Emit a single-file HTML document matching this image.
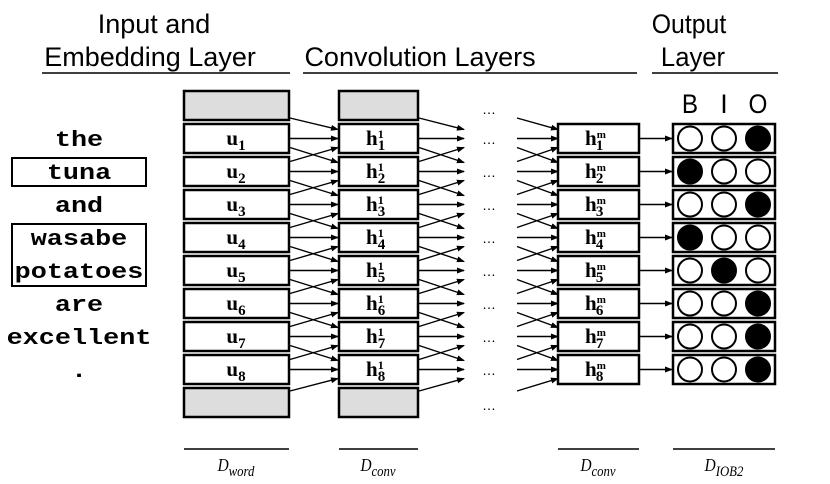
<!DOCTYPE html>
<html><head><meta charset="utf-8"><style>
html,body{margin:0;padding:0;background:#fff;}
svg{display:block}
.t{font-family:"Liberation Sans",sans-serif;font-size:27px;fill:#000}
.w{font-family:"Liberation Mono",monospace;font-weight:bold;font-size:22px;fill:#000}
.b{font-family:"Liberation Serif",serif;font-weight:bold;font-size:21px;fill:#000}
.s{font-size:15px}
.d{font-family:"Liberation Serif",serif;font-style:italic;font-size:18px}
</style></head><body>
<svg id="g" width="830" height="484" viewBox="0 0 830 484" xmlns="http://www.w3.org/2000/svg">
<defs><marker id="a" markerWidth="8" markerHeight="8" refX="7" refY="3" orient="auto" markerUnits="userSpaceOnUse"><path d="M0,0 L8,3 L0,6 z" fill="#000"/></marker></defs>
<text class="t" transform="translate(154,33) scale(1,1)" text-anchor="middle">Input and</text>
<text class="t" transform="translate(150,66) scale(1,1)" text-anchor="middle">Embedding Layer</text>
<text class="t" transform="translate(420,66) scale(1,1)" text-anchor="middle">Convolution Layers</text>
<text class="t" transform="translate(689,33) scale(0.92,1)" text-anchor="middle">Output</text>
<text class="t" transform="translate(693,66) scale(0.95,1)" text-anchor="middle">Layer</text>
<g stroke="#000" stroke-width="1.5"><line x1="42" y1="73" x2="290" y2="73"/><line x1="303" y1="73" x2="637" y2="73"/><line x1="652" y1="73" x2="778" y2="73"/>
<line x1="184" y1="449" x2="289" y2="449"/><line x1="339" y1="449" x2="418" y2="449"/><line x1="558" y1="449" x2="639" y2="449"/><line x1="673" y1="449" x2="775" y2="449"/></g>
<g class="d" text-anchor="middle">
<text transform="translate(236,471) scale(0.85,1)">D<tspan dy="5" font-size="15">word</tspan></text>
<text transform="translate(378,471) scale(0.85,1)">D<tspan dy="5" font-size="15">conv</tspan></text>
<text transform="translate(598,471) scale(0.85,1)">D<tspan dy="5" font-size="15">conv</tspan></text>
<text transform="translate(724,471) scale(0.85,1)">D<tspan dy="5" font-size="15">IOB2</tspan></text>
</g>
<text class="t" transform="translate(690,113) scale(0.9,1)" text-anchor="middle">B</text>
<text class="t" x="724" y="113" text-anchor="middle" font-size="24">I</text>
<text class="t" transform="translate(758,113) scale(0.9,1)" text-anchor="middle">O</text>
<rect x="12" y="158" width="134" height="28" fill="none" stroke="#000" stroke-width="2"/>
<rect x="12" y="224" width="134" height="62" fill="none" stroke="#000" stroke-width="2"/>
<g class="w" text-anchor="middle">
<text transform="translate(79,146) scale(1.22,1)">the</text>
<text transform="translate(79,179) scale(1.22,1)">tuna</text>
<text transform="translate(79,212) scale(1.22,1)">and</text>
<text transform="translate(79,245) scale(1.22,1)">wasabe</text>
<text transform="translate(79,278) scale(1.22,1)">potatoes</text>
<text transform="translate(79,311) scale(1.22,1)">are</text>
<text transform="translate(79,344) scale(1.22,1)">excellent</text>
<text transform="translate(79,377) scale(1.22,1)">.</text>
</g>
<g id="boxes" fill="#fff" stroke="#000" stroke-width="2.5"></g>
<g id="lines" stroke="#000" stroke-width="1.4" fill="none"></g>
<g class="b" text-anchor="middle">
<text x="236" y="145">u<tspan dy="5" class="s">1</tspan></text>
<text x="236" y="178">u<tspan dy="5" class="s">2</tspan></text>
<text x="236" y="211">u<tspan dy="5" class="s">3</tspan></text>
<text x="236" y="244">u<tspan dy="5" class="s">4</tspan></text>
<text x="236" y="277">u<tspan dy="5" class="s">5</tspan></text>
<text x="236" y="310">u<tspan dy="5" class="s">6</tspan></text>
<text x="236" y="343">u<tspan dy="5" class="s">7</tspan></text>
<text x="236" y="376">u<tspan dy="5" class="s">8</tspan></text>
</g>
<g class="b">
<text x="366" y="145">h<tspan dy="-7" font-size="12">1</tspan><tspan dx="-6" dy="12" class="s">1</tspan></text>
<text x="366" y="178">h<tspan dy="-7" font-size="12">1</tspan><tspan dx="-6" dy="12" class="s">2</tspan></text>
<text x="366" y="211">h<tspan dy="-7" font-size="12">1</tspan><tspan dx="-6" dy="12" class="s">3</tspan></text>
<text x="366" y="244">h<tspan dy="-7" font-size="12">1</tspan><tspan dx="-6" dy="12" class="s">4</tspan></text>
<text x="366" y="277">h<tspan dy="-7" font-size="12">1</tspan><tspan dx="-6" dy="12" class="s">5</tspan></text>
<text x="366" y="310">h<tspan dy="-7" font-size="12">1</tspan><tspan dx="-6" dy="12" class="s">6</tspan></text>
<text x="366" y="343">h<tspan dy="-7" font-size="12">1</tspan><tspan dx="-6" dy="12" class="s">7</tspan></text>
<text x="366" y="376">h<tspan dy="-7" font-size="12">1</tspan><tspan dx="-6" dy="12" class="s">8</tspan></text>
<text x="585" y="145">h<tspan dy="-7" font-size="11">m</tspan><tspan dx="-10" dy="12" class="s">1</tspan></text>
<text x="585" y="178">h<tspan dy="-7" font-size="11">m</tspan><tspan dx="-10" dy="12" class="s">2</tspan></text>
<text x="585" y="211">h<tspan dy="-7" font-size="11">m</tspan><tspan dx="-10" dy="12" class="s">3</tspan></text>
<text x="585" y="244">h<tspan dy="-7" font-size="11">m</tspan><tspan dx="-10" dy="12" class="s">4</tspan></text>
<text x="585" y="277">h<tspan dy="-7" font-size="11">m</tspan><tspan dx="-10" dy="12" class="s">5</tspan></text>
<text x="585" y="310">h<tspan dy="-7" font-size="11">m</tspan><tspan dx="-10" dy="12" class="s">6</tspan></text>
<text x="585" y="343">h<tspan dy="-7" font-size="11">m</tspan><tspan dx="-10" dy="12" class="s">7</tspan></text>
<text x="585" y="376">h<tspan dy="-7" font-size="11">m</tspan><tspan dx="-10" dy="12" class="s">8</tspan></text>
</g>
<g font-family="Liberation Sans,sans-serif" font-size="14" text-anchor="middle">
<text x="489" y="114">…</text><text x="489" y="144">…</text><text x="489" y="177">…</text><text x="489" y="210">…</text><text x="489" y="243">…</text><text x="489" y="276">…</text><text x="489" y="309">…</text><text x="489" y="342">…</text><text x="489" y="375">…</text><text x="489" y="410">…</text>
</g>
<g id="circ" stroke="#000" stroke-width="2"></g>
</svg>
<script>
var NS="http://www.w3.org/2000/svg";
function el(p,t,a){var e=document.createElementNS(NS,t);for(var k in a)e.setAttribute(k,a[k]);document.getElementById(p).appendChild(e);return e;}
function c(i){return 138.5+33*(i-1);}
function L(x1,y1,x2,y2){el("lines","line",{x1:x1,y1:y1,x2:x2,y2:y2,"marker-end":"url(#a)"});}
[[184,105],[339,79]].forEach(function(b){
 el("boxes","rect",{x:b[0],y:91,width:b[1],height:29,fill:"#ddd"});
 el("boxes","rect",{x:b[0],y:388,width:b[1],height:29,fill:"#ddd"});
});
for(var i=1;i<=8;i++){
 var y=124+33*(i-1);
 el("boxes","rect",{x:184,y:y,width:105,height:29});
 el("boxes","rect",{x:339,y:y,width:79,height:29});
 el("boxes","rect",{x:558,y:y,width:81,height:29});
 el("boxes","rect",{x:673,y:y,width:102,height:29});
}
function conn(xa,xb){
 L(xa,118,xb,c(1)-9);
 L(xa,391,xb,c(8)+9);
 for(var i=1;i<=8;i++){
  L(xa,c(i),xb,c(i));
  if(i<8)L(xa,c(i)+9,xb,c(i+1)-9);
  if(i>1)L(xa,c(i)-10,xb,c(i-1)+9);
 }
}
conn(290,338);conn(419,464);conn(517,558);
for(var i=1;i<=8;i++)L(640,c(i),672,c(i));
var F=[[0,0,1],[1,0,0],[0,0,1],[1,0,0],[0,1,0],[0,0,1],[0,0,1],[0,0,1]];
for(var i=1;i<=8;i++)for(var j=0;j<3;j++)
 el("circ","circle",{cx:690+34*j,cy:c(i),r:12,fill:F[i-1][j]?"#000":"#fff"});
</script>
</body></html>
